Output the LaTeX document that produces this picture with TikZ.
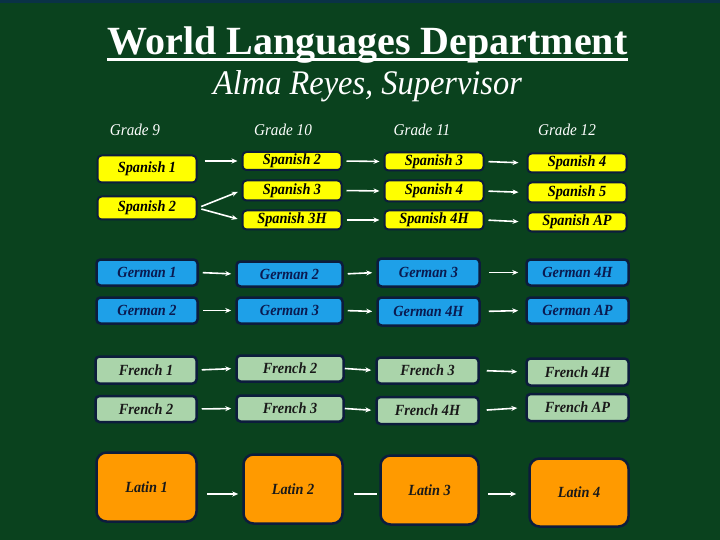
\documentclass[tikz,border=0pt]{standalone}
\usepackage{fontspec}
\setmainfont{Liberation Serif}
\newfontfamily\boxfont[FakeStretch=0.92]{Liberation Serif}
\newfontfamily\subfont[FakeStretch=0.94]{Liberation Serif}
\usetikzlibrary{arrows.meta}
\definecolor{bgG}{RGB}{10,66,30}
\definecolor{topB}{RGB}{10,50,70}
\definecolor{boxB}{RGB}{12,28,60}
\definecolor{spY}{RGB}{255,255,0}
\definecolor{deB}{RGB}{30,160,232}
\definecolor{deT}{RGB}{10,26,80}
\definecolor{frG}{RGB}{170,212,170}
\definecolor{laO}{RGB}{255,154,0}
\tikzset{
  lbox/.style={draw=boxB, line width=2.5pt, rounded corners=4pt, inner sep=0pt,
    font=\boxfont\fontsize{15.5}{16}\selectfont\bfseries\itshape},
  spbox/.style={lbox, fill=spY, text=black, line width=2pt},
  debox/.style={lbox, fill=deB, text=deT},
  frbox/.style={lbox, fill=frG, text=black!90},
  labox/.style={lbox, fill=laO, text=black!90, rounded corners=10pt},
  arr/.style={white, line width=1.6pt, -{Stealth[length=6pt,width=5pt]}, shorten <=4pt, shorten >=4pt},
  plainln/.style={white, line width=1.6pt},
  grade/.style={white, font=\boxfont\fontsize{16.5}{17}\selectfont\itshape, inner sep=0pt, anchor=base}
}
\begin{document}
\begin{tikzpicture}[x=1pt,y=-1pt]
\useasboundingbox (0,0) rectangle (720,540);
\fill[bgG] (0,0) rectangle (720,540);
\fill[topB] (0,0) rectangle (720,3);

% titles
\node[white, font=\fontsize{40}{42}\selectfont\bfseries, inner sep=0pt, anchor=base] (title) at (367.5,55) {World Languages Department};
\draw[white, line width=3pt] ([yshift=-4.5pt]title.base west) -- ([yshift=-4.5pt]title.base east);
\node[white, font=\subfont\fontsize{34.5}{36}\selectfont\itshape, inner sep=0pt, anchor=base] (sup) at (367.5,95) {Alma Reyes, Supervisor};

% grade labels
\node[grade] (g9) at (135,136) {Grade 9};
\node[grade] (g10) at (283,136) {Grade 10};
\node[grade] (g11) at (422,136) {Grade 11};
\node[grade] (g12) at (567,136) {Grade 12};

% Spanish
\node[spbox, minimum width=99pt, minimum height=27pt] (sa1) at (147,169) {Spanish 1};
\node[spbox, minimum width=99pt, minimum height=23pt] (sa2) at (147,208) {Spanish 2};
\node[spbox, minimum width=99pt, minimum height=18pt] (sb2) at (292,161) {Spanish 2};
\node[spbox, minimum width=99pt, minimum height=20pt] (sb3) at (292,190.5) {Spanish 3};
\node[spbox, minimum width=99pt, minimum height=19pt] (sb3h) at (292,220) {Spanish 3H};
\node[spbox, minimum width=99pt, minimum height=18pt] (sc3) at (434,161.5) {Spanish 3};
\node[spbox, minimum width=99pt, minimum height=21pt] (sc4) at (434,191) {Spanish 4};
\node[spbox, minimum width=99pt, minimum height=19pt] (sc4h) at (434,220) {Spanish 4H};
\node[spbox, minimum width=99pt, minimum height=19pt] (sd4) at (577,163) {Spanish 4};
\node[spbox, minimum width=99pt, minimum height=20pt] (sd5) at (577,192.5) {Spanish 5};
\node[spbox, minimum width=99pt, minimum height=19pt] (sdap) at (577,222) {Spanish AP};

% German
\node[debox, minimum width=101pt, minimum height=26pt] (ga1) at (147,272.5) {German 1};
\node[debox, minimum width=101pt, minimum height=26pt] (ga2) at (147,310.5) {German 2};
\node[debox, minimum width=106pt, minimum height=25pt] (gb2) at (289.5,274) {German 2};
\node[debox, minimum width=106pt, minimum height=26pt] (gb3) at (289.5,310.5) {German 3};
\node[debox, minimum width=102pt, minimum height=28pt] (gc3) at (428.5,272.5) {German 3};
\node[debox, minimum width=102pt, minimum height=28pt] (gc4h) at (428.5,311.5) {German 4H};
\node[debox, minimum width=102pt, minimum height=26pt] (gd4h) at (577.5,272.5) {German 4H};
\node[debox, minimum width=102pt, minimum height=26pt] (gdap) at (577.5,310.5) {German AP};

% French
\node[frbox, minimum width=101pt, minimum height=27pt] (fa1) at (146,370) {French 1};
\node[frbox, minimum width=101pt, minimum height=26pt] (fa2) at (146,409) {French 2};
\node[frbox, minimum width=107pt, minimum height=26pt] (fb2) at (290,368.5) {French 2};
\node[frbox, minimum width=107pt, minimum height=26pt] (fb3) at (290,408.5) {French 3};
\node[frbox, minimum width=102pt, minimum height=26pt] (fc3) at (427.5,370.5) {French 3};
\node[frbox, minimum width=102pt, minimum height=27pt] (fc4h) at (427.5,410.5) {French 4H};
\node[frbox, minimum width=102pt, minimum height=27pt] (fd4h) at (577.5,372) {French 4H};
\node[frbox, minimum width=102pt, minimum height=27pt] (fdap) at (577.5,407.5) {French AP};

% Latin
\node[labox, minimum width=100pt, minimum height=69pt] (la1) at (146.5,487) {Latin 1};
\node[labox, minimum width=99pt, minimum height=69pt] (la2) at (293,489) {Latin 2};
\node[labox, minimum width=98pt, minimum height=69pt] (la3) at (429.5,490) {Latin 3};
\node[labox, minimum width=99pt, minimum height=68pt] (la4) at (579,492.5) {Latin 4};

% Spanish arrows
\draw[arr, shorten <=7pt] (sa1.east |- sb2.west) -- (sb2.west);
\draw[arr] (sa2.east) -- (sb3.west);
\draw[arr] (sa2.east) -- (sb3h.west);
\draw[arr] (sb2.east) -- (sc3.west);
\draw[arr] (sb3.east) -- (sc4.west);
\draw[arr] (sb3h.east) -- (sc4h.west);
\draw[arr, shorten >=8pt] (sc3.east) -- (sd4.west);
\draw[arr, shorten >=8pt] (sc4.east) -- (sd5.west);
\draw[arr, shorten >=8pt] (sc4h.east) -- (sdap.west);

% German arrows
\draw[arr] (ga1.east) -- (gb2.west);
\draw[arr] (ga2.east) -- (gb3.west);
\draw[arr] (gb2.east) -- (gc3.west);
\draw[arr] (gb3.east) -- (gc4h.west);
\draw[arr, shorten <=8pt, shorten >=7pt] (gc3.east) -- (gd4h.west);
\draw[arr, shorten <=8pt, shorten >=7pt] (gc4h.east) -- (gdap.west);

% French arrows
\draw[arr] (fa1.east) -- (fb2.west);
\draw[arr] (fa2.east) -- (fb3.west);
\draw[arr, shorten <=0pt] (fb2.east) -- (fc3.west);
\draw[arr, shorten <=0pt] (fb3.east) -- (fc4h.west);
\draw[arr, shorten <=7pt, shorten >=8pt] (fc3.east) -- (fd4h.west);
\draw[arr, shorten <=7pt, shorten >=8pt] (fc4h.east) -- (fdap.west);

% Latin arrows
\draw[arr, shorten <=9pt] ([yshift=-7pt]la1.east) -- ([yshift=-5pt]la2.west);
\draw[plainln, shorten <=10pt, shorten >=2pt] ([yshift=-5pt]la2.east) -- ([yshift=-4pt]la3.west);
\draw[arr, shorten <=8pt, shorten >=12pt] ([yshift=-4pt]la3.east) -- ([yshift=-1.5pt]la4.west);
\end{tikzpicture}
\end{document}
